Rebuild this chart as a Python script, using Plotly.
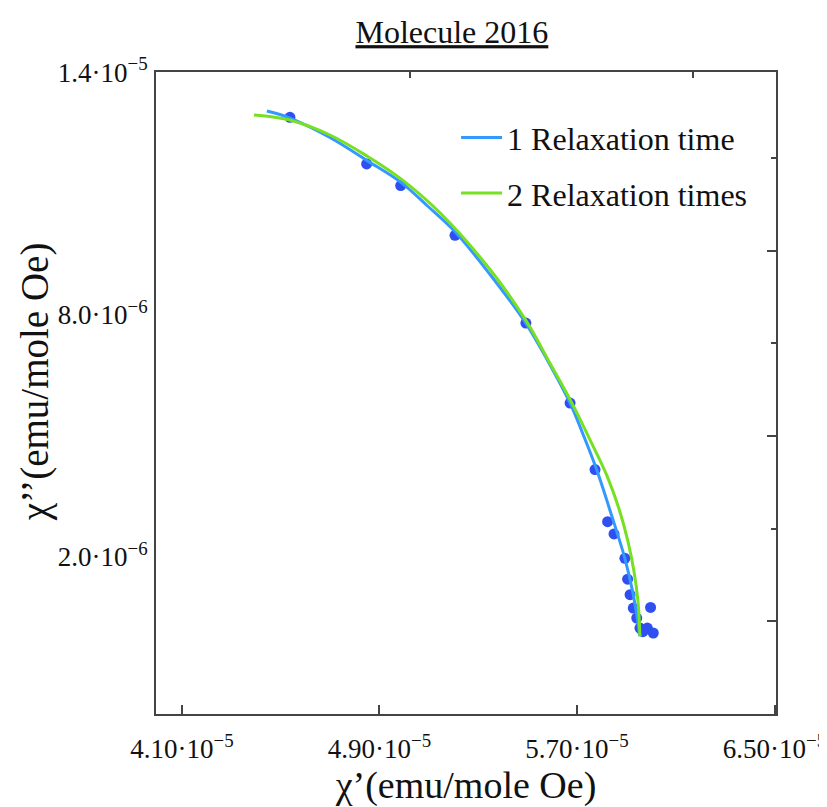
import plotly.graph_objects as go

# ---- data (chi' in units of 1e-5, chi'' in units of 1e-6) ----
X_UNIT = 1e-5
Y_UNIT = 1e-6

chi1_data = [4.5375, 4.848, 4.986, 5.206, 5.493, 5.672, 5.773, 5.824, 5.850, 5.894,
             5.905, 5.915, 5.928, 5.998, 5.942, 5.955, 5.967, 5.985, 6.009]
chi2_data = [12.881, 11.728, 11.192, 9.958, 7.785, 5.803, 4.156, 2.864, 2.561, 1.958,
             1.440, 1.055, 0.724, 0.741, 0.477, 0.230, 0.140, 0.230, 0.107]

fit1_chi1 = [4.444, 4.5375, 4.6995, 4.849, 4.987, 5.096, 5.206, 5.348, 5.493, 5.5825,
             5.672, 5.724, 5.777, 5.838, 5.894, 5.927, 5.955]
fit1_chi2 = [13.037, 12.864, 12.383, 11.815, 11.272, 10.679, 10.049, 8.988, 7.778, 6.840,
             5.802, 5.037, 4.198, 3.062, 1.951, 1.087, 0.025]

fit2_chi1 = [4.3916, 4.4686, 4.5375, 4.6995, 4.849, 4.987, 5.145, 5.348, 5.493, 5.5906,
             5.6838, 5.7607, 5.8215, 5.8701, 5.9066, 5.9309, 5.9471, 5.955]
fit2_chi2 = [12.938, 12.889, 12.815, 12.444, 11.926, 11.358, 10.518, 9.111, 7.852, 6.790,
             5.753, 4.790, 4.000, 3.185, 2.370, 1.630, 0.889, 0.025]

x_tick_vals = [4.10, 4.90, 5.70, 6.50]
x_tick_text = ["4.10·10<sup>−5</sup>", "4.90·10<sup>−5</sup>", "5.70·10<sup>−5</sup>", "6.50·10<sup>−5</sup>"]
y_tick_vals = [14.0, 8.0, 2.0]
y_tick_text = ["1.4·10<sup>−5</sup>", "8.0·10<sup>−6</sup>", "2.0·10<sup>−6</sup>"]

top_ticks = [5.0235, 6.170]
right_major_ticks = [9.58, 4.988, 0.395]
right_minor_ticks = [11.876, 7.284, 2.69]

series_names = ["1 Relaxation time", "2 Relaxation times"]

# ---- figure ----
FONT = "Liberation Serif, Times New Roman, serif"
xr = [3.995 * X_UNIT, 6.506 * X_UNIT]
yr = [-1.9 * Y_UNIT, 14.005 * Y_UNIT]

fig = go.Figure()
fig.add_trace(go.Scatter(
    x=[v * X_UNIT for v in chi1_data], y=[v * Y_UNIT for v in chi2_data],
    mode="markers", marker=dict(color="#2f4ff0", size=11), showlegend=False))
fig.add_trace(go.Scatter(
    x=[v * X_UNIT for v in fit1_chi1], y=[v * Y_UNIT for v in fit1_chi2],
    mode="lines", line=dict(color="#3399ff", width=3, shape="spline", smoothing=1.0),
    name=series_names[0], legendgroup="a"))
fig.add_trace(go.Scatter(
    x=[v * X_UNIT for v in fit2_chi1], y=[v * Y_UNIT for v in fit2_chi2],
    mode="lines", line=dict(color="#77e022", width=3, shape="spline", smoothing=1.0),
    name=series_names[1], legendgroup="b"))

# invisible traces to activate the mirror-tick axes
fig.add_trace(go.Scatter(x=[None], y=[None], xaxis="x2", yaxis="y2", showlegend=False))
fig.add_trace(go.Scatter(x=[None], y=[None], xaxis="x2", yaxis="y3", showlegend=False))

axis_line = dict(showline=True, linecolor="#444444", linewidth=2, showgrid=False, zeroline=False,
                 automargin=False)

# the page body adds an 8px offset, so the figure is 8px smaller than the window
fig.update_layout(
    width=819, height=799,
    margin=dict(l=148, r=51, t=64, b=93),
    paper_bgcolor="white", plot_bgcolor="white",
    font=dict(family=FONT, color="#111111"),
    title=dict(text="<u>Molecule 2016</u>", x=0.542, xanchor="center", y=0.970, yanchor="middle",
               font=dict(family=FONT, size=32, color="#111111")),
    xaxis=dict(range=xr, mirror=True, ticks="inside", ticklen=9, tickwidth=1.5, tickcolor="#444444",
               tickvals=[v * X_UNIT for v in x_tick_vals], ticktext=x_tick_text,
               tickfont=dict(family=FONT, size=27), ticklabelstandoff=10, ticklabeloverflow="allow",
               title=dict(text="χ’(emu/mole Oe)", font=dict(family=FONT, size=38), standoff=22),
               **axis_line),
    yaxis=dict(range=yr, mirror=True, ticks="",
               tickvals=[v * Y_UNIT for v in y_tick_vals], ticktext=y_tick_text,
               tickfont=dict(family=FONT, size=27), ticklabelstandoff=1, ticklabeloverflow="allow",
               title=dict(text=""),
               **axis_line),
    xaxis2=dict(range=xr, overlaying="x", side="top", anchor="y",
                tickvals=[v * X_UNIT for v in top_ticks], ticks="inside", ticklen=6, tickwidth=1.5,
                tickcolor="#444444", showticklabels=False, showgrid=False, zeroline=False),
    yaxis2=dict(range=yr, overlaying="y", side="right", anchor="x",
                tickvals=[v * Y_UNIT for v in right_major_ticks], ticks="inside", ticklen=9, tickwidth=1.5,
                tickcolor="#444444", showticklabels=False, showgrid=False, zeroline=False),
    yaxis3=dict(range=yr, overlaying="y", side="right", anchor="x",
                tickvals=[v * Y_UNIT for v in right_minor_ticks], ticks="inside", ticklen=5, tickwidth=1.5,
                tickcolor="#444444", showticklabels=False, showgrid=False, zeroline=False),
    legend=dict(x=0.484, y=0.9405, xanchor="left", yanchor="top", bgcolor="rgba(0,0,0,0)",
                font=dict(family=FONT, size=32, color="#111111"),
                traceorder="grouped", tracegroupgap=11, itemwidth=41),
    annotations=[dict(text="χ’’(emu/mole Oe)", xref="paper", yref="paper",
                      x=-0.195, y=0.517, xanchor="center", yanchor="middle", textangle=-90,
                      showarrow=False, font=dict(family=FONT, size=39, color="#111111"))],
)

fig.write_html("out.html")
